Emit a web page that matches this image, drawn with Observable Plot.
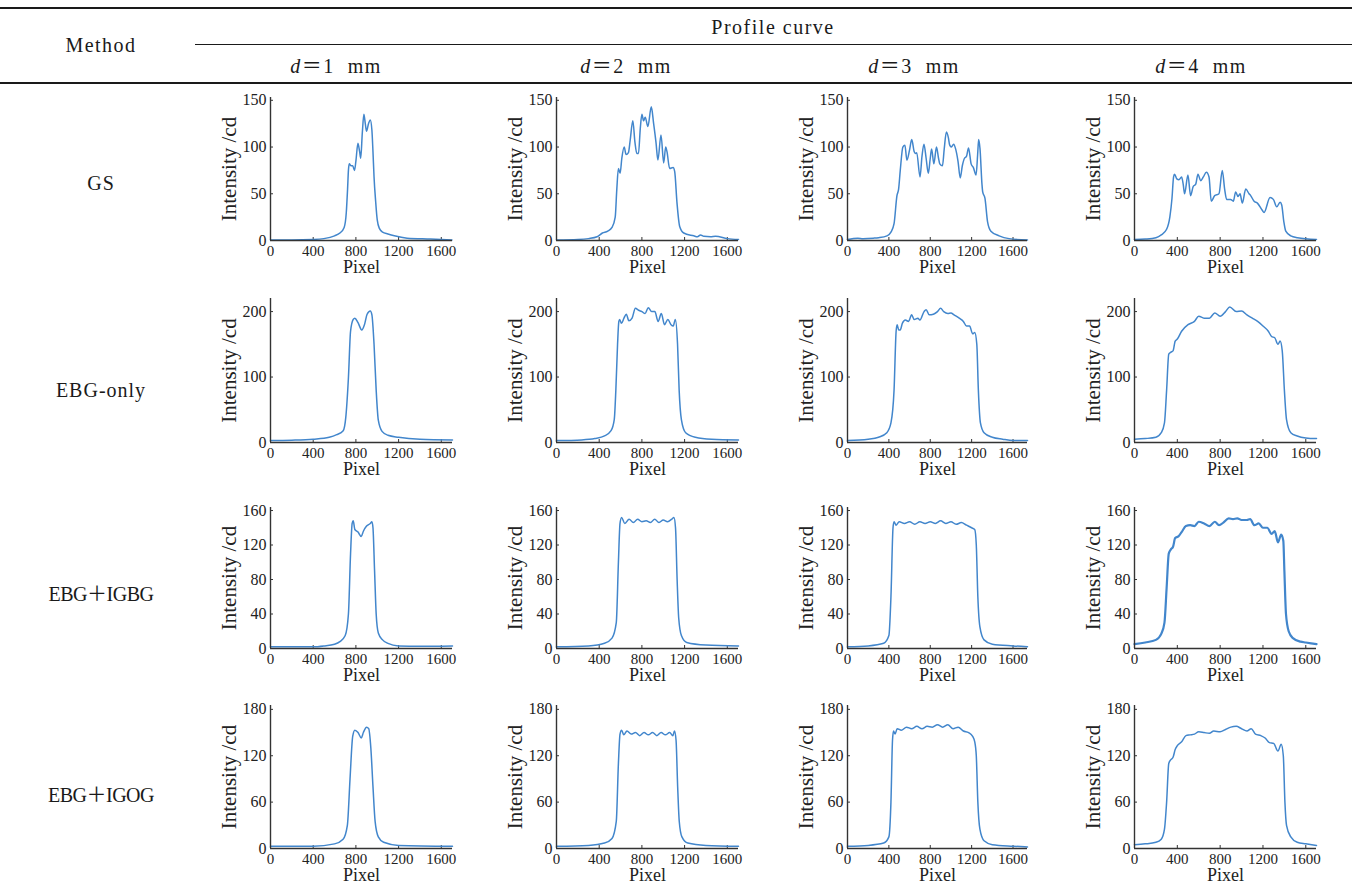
<!DOCTYPE html>
<html><head><meta charset="utf-8">
<script src="https://cdn.jsdelivr.net/npm/d3@7"></script>
<script src="https://cdn.jsdelivr.net/npm/@observablehq/plot@0.6"></script>
<style>
body{margin:0;background:#fff;}
#page{position:relative;width:1352px;height:885px;overflow:hidden;font-family:"Liberation Serif","Noto Sans CJK SC",serif;color:#1a1a1a;}
.rule{position:absolute;background:#1a1a1a;}
.t{position:absolute;transform:translate(-50%,-50%);white-space:nowrap;line-height:1;}
.panel{position:absolute;}
.panel g[aria-label="y-axis tick label"]{font-size:16px;}
</style></head><body><div id="page"></div><script>
// ---- data ----
const methods = ["GS", "EBG-only", "EBG＋IGBG", "EBG＋IGOG"];
const distances = ["1", "2", "3", "4"];
const headerMethod = "Method";
const headerProfile = "Profile curve";
const xLabel = "Pixel";
const yLabel = "Intensity /cd";
const pixelTicks = [0, 400, 800, 1200, 1600];
const intensityTicks = [[0, 50, 100, 150], [0, 100, 200], [0, 40, 80, 120, 160], [0, 60, 120, 180]];
const intensityMax = [153, 220, 163.5, 185];
const pixelMax = [1705, 1705, 1740, 1700];

const gs_d1 = [[0,0.5],[200,0.5],[400,1],[500,2],[600,5],[650,8],[690,14],[710,30],[722,55],[730,75],[738,82],[755,80],[770,80],[787,75],[800,85],[819,104],[835,95],[845,88],[860,115],[875,135],[888,125],[900,117],[918,125],[935,129],[950,118],[960,95],[970,68],[985,42],[1000,22],[1020,13],[1050,9],[1100,7],[1160,5],[1280,2.5],[1500,1.5],[1700,0.5]];
const gs_d2 = [[0,0.5],[200,1],[300,2],[380,4],[430,8],[480,10],[520,14],[550,25],[565,55],[580,77],[596,72],[612,88],[634,100],[652,92],[674,94],[690,107],[715,128],[735,105],[753,93],[768,93],[785,120],[800,135],[816,128],[831,132],[856,122],[888,143],[910,125],[932,105],[950,86],[979,113],[1004,83],[1023,100],[1035,95],[1060,77],[1092,78],[1107,74],[1129,40],[1154,15],[1192,8],[1286,5],[1320,4],[1349,6],[1380,4.5],[1443,4],[1490,4.5],[1600,2],[1705,1]];
const gs_d3 = [[0,1],[100,2.5],[150,2],[250,2.5],[300,3],[382,5],[420,9],[450,18],[478,48],[494,55],[510,75],[535,100],[555,102],[574,86],[600,97],[621,108],[645,95],[660,93],[669,94],[701,68],[720,90],[739,103],[760,88],[781,72],[800,88],[813,98],[835,82],[860,100],[880,88],[892,82],[918,80],[935,98],[956,116],[975,110],[988,102],[1004,100],[1026,103],[1045,98],[1068,85],[1090,67],[1110,80],[1131,88],[1150,90],[1170,99],[1195,82],[1217,78],[1243,70],[1258,92],[1268,108],[1281,98],[1300,60],[1307,52],[1329,45],[1354,20],[1386,10],[1466,5],[1562,2],[1740,0.5]];
const gs_d4 = [[0,1],[100,1.5],[200,3],[250,6],[300,12],[330,25],[350,45],[365,68],[374,71],[395,66],[415,65],[440,68],[455,60],[468,50],[499,70],[524,48],[549,58],[571,60],[593,71],[618,64],[643,68],[671,73],[696,68],[717,42],[749,48],[789,50],[820,75],[842,55],[861,44],[898,44],[923,42],[945,52],[967,47],[986,50],[1007,40],[1039,55],[1070,50],[1085,48],[1117,42],[1148,40],[1195,32],[1210,30],[1266,46],[1297,44],[1329,36],[1360,41],[1375,38],[1395,20],[1413,10],[1460,5],[1522,3],[1700,1]];

const ebg_d1 = [[0,3],[200,3.5],[400,5],[550,8],[620,12],[681,18],[705,38],[730,99],[750,170],[775,188],[790,190],[820,183],[855,172],[880,180],[905,196],[935,201],[950,195],[970,150],[990,80],[1010,34],[1045,17],[1100,11],[1200,8],[1400,5],[1705,4]];
const ebg_d2 = [[0,3],[237,4],[359,6],[450,10],[511,18],[541,35],[556,80],[572,150],[584,185],[592,188],[608,182],[632,190],[654,196],[678,186],[708,190],[739,205],[769,202],[800,200],[830,197],[860,206],[891,200],[921,200],[952,185],[982,197],[1012,180],[1043,188],[1073,180],[1094,178],[1113,188],[1134,150],[1149,80],[1170,35],[1210,15],[1301,8],[1453,5],[1705,4]];
const ebg_d3 = [[0,3],[200,5],[300,8],[380,15],[420,30],[450,80],[470,170],[480,180],[495,172],[510,172],[530,182],[560,187],[590,185],[620,195],[645,188],[680,190],[700,187],[740,200],[760,203],[790,195],[830,196],[870,200],[900,205],[930,200],[970,197],[1000,198],[1030,195],[1080,190],[1120,185],[1150,178],[1180,178],[1210,166],[1230,168],[1250,150],[1265,80],[1285,30],[1320,15],[1400,8],[1500,5],[1600,3],[1740,3]];
const ebg_d4 = [[0,5],[100,6],[200,8],[250,15],[280,30],[300,80],[320,135],[340,138],[360,140],[380,155],[400,158],[440,170],[500,180],[560,185],[600,193],[650,190],[700,190],[750,198],[800,193],[850,200],[890,207],[950,200],[1000,201],[1050,195],[1100,190],[1150,185],[1200,178],[1250,170],[1280,162],[1310,160],[1340,150],[1360,155],[1380,140],[1400,80],[1420,35],[1460,15],[1520,10],[1600,7],[1700,6]];

const igbg_d1 = [[0,2],[400,2],[500,3],[600,5],[650,8],[700,15],[730,40],[750,110],[765,145],[775,148],[790,138],[820,135],[850,130],[870,136],[900,142],[935,145],[950,147],[960,140],[975,90],[990,40],[1010,18],[1050,10],[1100,6],[1200,3],[1400,2.5],[1705,3]];
const igbg_d2 = [[0,2],[300,3],[450,6],[520,12],[560,30],[580,100],[595,145],[610,152],[640,145],[680,150],[720,146],[760,150],[800,147],[840,148],[880,146],[920,150],[960,146],[1000,149],[1040,147],[1080,150],[1100,152],[1115,140],[1130,80],[1145,35],[1170,15],[1220,7],[1400,4],[1705,3]];
const igbg_d3 = [[0,2],[200,3],[350,6],[400,15],[420,60],[440,140],[450,147],[470,143],[500,147],[550,145],[600,147],[650,144],[700,147],[750,145],[800,147],[850,145],[900,148],[950,145],[1000,147],[1050,144],[1100,146],[1150,143],[1200,140],[1230,138],[1245,120],[1260,60],[1280,25],[1320,10],[1400,5],[1600,3],[1740,2]];
const igbg_d4 = [[0,5],[100,7],[200,10],[250,17],[280,30],[300,70],[320,110],[340,115],[360,118],[380,128],[410,130],[440,135],[480,142],[520,143],[560,142],[600,147],[650,145],[700,142],[750,147],[790,143],[830,146],[880,151],[920,150],[960,151],[1000,149],[1050,149],[1080,150],[1120,143],[1160,145],[1200,140],[1240,140],[1280,133],[1310,136],[1340,123],[1370,132],[1390,125],[1400,90],[1415,40],[1440,20],[1480,12],[1550,8],[1600,7],[1700,5]];

const igog_d1 = [[0,3],[400,3],[600,6],[680,12],[720,30],[745,90],[770,145],[790,153],[820,150],[850,143],[870,150],[900,157],[920,155],[940,130],[960,80],[980,35],[1010,15],[1060,8],[1200,4],[1705,3]];
const igog_d2 = [[0,3],[300,4],[450,7],[520,13],[560,35],[580,110],[595,148],[610,153],[630,147],[660,152],[700,148],[740,150],[780,146],[820,150],[860,147],[900,150],[940,146],[980,150],[1020,147],[1060,150],[1090,146],[1105,152],[1120,140],[1135,80],[1150,35],[1175,15],[1230,7],[1400,4],[1705,3]];
const igog_d3 = [[0,3],[200,4],[350,7],[400,15],[420,60],[435,140],[445,152],[460,148],[480,155],[520,153],[570,157],[620,155],[670,158],[720,155],[770,158],[820,157],[870,160],[920,157],[970,160],[1020,155],[1070,157],[1120,152],[1170,150],[1210,145],[1230,138],[1245,120],[1260,60],[1280,25],[1320,10],[1400,5],[1600,3],[1740,2]];
const igog_d4 = [[0,5],[100,6],[200,8],[250,12],[280,25],[300,60],[320,110],[340,115],[360,118],[380,128],[400,133],[440,138],[480,146],[520,147],[560,148],[600,151],[650,150],[700,149],[740,152],[800,151],[850,154],[900,157],[950,158],[1000,155],[1050,152],[1090,155],[1130,148],[1180,146],[1220,143],[1260,137],[1300,136],[1340,126],[1370,135],[1390,120],[1405,60],[1420,30],[1460,15],[1520,8],[1600,6],[1700,4]];

const profiles = [
  [gs_d1, gs_d2, gs_d3, gs_d4],
  [ebg_d1, ebg_d2, ebg_d3, ebg_d4],
  [igbg_d1, igbg_d2, igbg_d3, igbg_d4],
  [igog_d1, igog_d2, igog_d3, igog_d4]
];

// ---- layout ----
const colAxisX = [270, 556, 847, 1134];
const colWidth = [182, 182, 180, 182];
const colCenter = [336, 626, 914, 1201];
const rowTop = [97, 298, 507, 705];
const rowBottom = [240, 442, 648, 848];
const rowLabelY = [183, 390, 594, 795];
const lineColor = "#4286cc";
const axisColor = "#333";

const page = document.getElementById("page");
function rule(top, left, width, h) {
  const d = document.createElement("div");
  d.className = "rule";
  d.style.cssText = `top:${top}px;left:${left}px;width:${width}px;height:${h}px;`;
  page.appendChild(d);
}
function text(html, x, y, size, extra = "") {
  const d = document.createElement("div");
  d.className = "t";
  d.style.cssText = `left:${x}px;top:${y}px;font-size:${size}px;${extra}`;
  d.innerHTML = html;
  page.appendChild(d);
}
rule(7, 0, 1352, 2);
rule(44, 195, 1157, 1);
rule(82, 0, 1352, 1.5);
text(headerMethod, 101, 45, 20, "letter-spacing:1.5px;");
text(headerProfile, 773, 27, 20, "letter-spacing:1.5px;");
distances.forEach((d, i) => text(`<i>d</i>＝${d}&nbsp;&nbsp;mm`, colCenter[i], 66, 20, "letter-spacing:1.5px;"));
methods.forEach((m, i) => text(m, 101, rowLabelY[i], 20, m.includes("＋") ? "letter-spacing:-0.5px;" : "letter-spacing:1px;"));

const mL = 62, mR = 10, mT = 4, mB = 42;
profiles.forEach((row, r) => row.forEach((data, c) => {
  const w = colWidth[c], h = rowBottom[r] - rowTop[r];
  const xm = pixelMax[c], ym = intensityMax[r];
  const fmt = d3.format("d");
  const plot = Plot.plot({
    width: mL + w + mR, height: mT + h + mB,
    marginLeft: mL, marginRight: mR, marginTop: mT, marginBottom: mB,
    style: {fontFamily: "'Liberation Serif', serif", fontSize: "15px", color: "#222", background: "transparent", overflow: "visible"},
    x: {domain: [0, xm], ticks: pixelTicks, tickSize: 0, tickPadding: 5, label: null, tickFormat: fmt},
    y: {domain: [0, ym], ticks: intensityTicks[r], tickSize: 0, tickPadding: 4, label: null, tickFormat: fmt},
    marks: [
      Plot.ruleY(intensityTicks[r], {y: d => d, x1: 0, x2: xm * 3 / w, stroke: axisColor}),
      Plot.ruleX(pixelTicks, {x: d => d, y1: 0, y2: ym * 3 / h, stroke: axisColor}),
      Plot.line(data, {x: d => d[0], y: d => d[1], curve: "monotone-x", stroke: lineColor, strokeWidth: (r === 2 && c === 3) ? 2.2 : 1.5}),
      Plot.ruleX([0], {stroke: axisColor, strokeWidth: 1.4}),
      Plot.ruleY([0], {stroke: axisColor, strokeWidth: 1.4}),
      Plot.text([yLabel], {text: d => d, frameAnchor: "left", textAnchor: "middle", rotate: -90, dx: -41, fontSize: 21, fill: "#222"}),
      Plot.text([xLabel], {text: d => d, frameAnchor: "bottom", textAnchor: "middle", dy: 32, fontSize: 18, fill: "#222"})
    ]
  });
  const div = document.createElement("div");
  div.className = "panel";
  div.style.left = (colAxisX[c] - mL) + "px";
  div.style.top = (rowTop[r] - mT) + "px";
  div.appendChild(plot);
  page.appendChild(div);
}));
</script></body></html>
